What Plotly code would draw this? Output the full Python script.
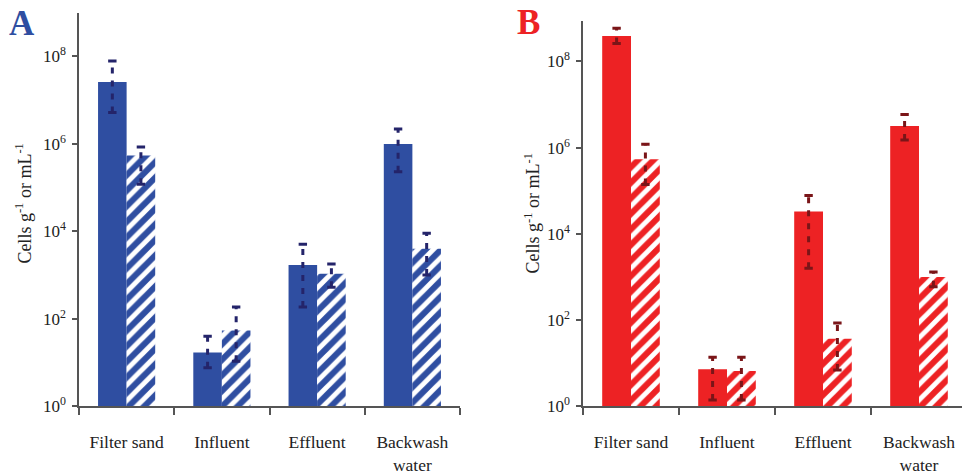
import plotly.graph_objects as go

categories = ["Filter sand", "Influent", "Effluent", "Backwash<br>water"]

# Panel A (blue)
a_solid = [2.6e7, 17, 1.7e3, 1.0e6]
a_solid_hi = [7.9e7, 40, 5.1e3, 2.2e6]
a_solid_lo = [5.2e6, 7.6, 186, 2.3e5]
a_hatch = [5.4e5, 54, 1.07e3, 4.0e3]
a_hatch_hi = [8.5e5, 186, 1.8e3, 9.1e3]
a_hatch_lo = [1.2e5, 10.7, 525, 1.0e3]

# Panel B (red)
b_solid = [3.9e8, 7.2, 3.3e4, 3.2e6]
b_solid_hi = [5.9e8, 13.8, 7.8e4, 5.9e6]
b_solid_lo = [2.6e8, 1.4, 1.6e3, 1.5e6]
b_hatch = [5.4e5, 6.6, 37, 1.0e3]
b_hatch_hi = [1.2e6, 13.8, 85, 1.3e3]
b_hatch_lo = [1.4e5, 1.4, 6.9, 590]

ytick_vals = [1, 1e2, 1e4, 1e6, 1e8]
ytick_text = ["10<sup>0</sup>", "10<sup>2</sup>", "10<sup>4</sup>", "10<sup>6</sup>", "10<sup>8</sup>"]

BLUE = "#2f4ea1"
NAVY = "#24246a"
RED = "#ed2224"
DRED = "#7a1518"
FONT = "Liberation Serif"
AXC = "#555555"

W, H = 962, 475
BAR_W = 0.3
OFF = 0.15


def px_x(page_x):
    return page_x / W


def px_y(page_y):
    return (H - page_y) / H


fig = go.Figure()


def add_panel(xa, ya, solid, s_hi, s_lo, hatch, h_hi, h_lo, color, ecolor):
    n = len(solid)
    xs = [i - OFF for i in range(n)]
    xh = [i + OFF for i in range(n)]
    fig.add_trace(go.Bar(x=xs, y=solid, width=BAR_W, marker=dict(color=color, line=dict(width=0)),
                         xaxis=xa, yaxis=ya, showlegend=False))
    fig.add_trace(go.Bar(x=xh, y=hatch, width=BAR_W,
                         marker=dict(color=color, line=dict(width=0),
                                     pattern=dict(shape="/", fgcolor="white", bgcolor=color,
                                                  size=11, solidity=0.45, fillmode="overlay",
                                                  fgopacity=1)),
                         xaxis=xa, yaxis=ya, showlegend=False))
    for xx, lo, hi in ((xs, s_lo, s_hi), (xh, h_lo, h_hi)):
        lx, ly = [], []
        for i in range(n):
            lx += [xx[i], xx[i], None]
            ly += [lo[i], hi[i], None]
        fig.add_trace(go.Scatter(x=lx, y=ly, mode="lines",
                                 line=dict(color=ecolor, width=3, dash="6px,7px"),
                                 xaxis=xa, yaxis=ya, showlegend=False, hoverinfo="skip"))
        fig.add_trace(go.Scatter(x=xx + xx, y=list(lo) + list(hi), mode="markers",
                                 marker=dict(symbol="line-ew", size=6,
                                             line=dict(color=ecolor, width=3)),
                                 xaxis=xa, yaxis=ya, showlegend=False, hoverinfo="skip"))


add_panel("x", "y", a_solid, a_solid_hi, a_solid_lo, a_hatch, a_hatch_hi, a_hatch_lo, BLUE, NAVY)
add_panel("x2", "y2", b_solid, b_solid_hi, b_solid_lo, b_hatch, b_hatch_hi, b_hatch_lo, RED, DRED)


def xaxis_cfg(dom, anchor, xmax):
    return dict(domain=dom, anchor=anchor, range=[-0.5, xmax], tickvals=list(range(len(categories))),
                ticktext=categories, ticks="", showline=True, linecolor=AXC, linewidth=1.5,
                showgrid=False, zeroline=False, ticklabelstandoff=19,
                tickfont=dict(family=FONT, size=17.5, color="#222"),
                minor=dict(tickvals=[-0.5, 0.5, 1.5, 2.5, 3.5], ticks="outside", ticklen=7,
                           tickcolor=AXC, tickwidth=1.5, showgrid=False))


def yaxis_cfg(dom, anchor, top):
    return dict(domain=dom, anchor=anchor, type="log", range=[0, top], tickvals=ytick_vals,
                ticktext=ytick_text, ticks="outside", ticklen=5, tickcolor=AXC, tickwidth=1.5,
                showline=True, linecolor=AXC, linewidth=1.5, showgrid=False, zeroline=False,
                ticklabelstandoff=3,
                tickfont=dict(family=FONT, size=17, color="#222"))


fig.update_layout(
    width=W, height=H,
    margin=dict(l=0, r=0, t=0, b=0),
    paper_bgcolor="white", plot_bgcolor="white",
    barmode="overlay",
    xaxis=xaxis_cfg([px_x(79), px_x(460)], "y", 3.5),
    yaxis=yaxis_cfg([px_y(415), px_y(13)], "x", 9.0),
    xaxis2=xaxis_cfg([px_x(583), 1.0], "y2", -0.5 + (W - 583) / 96.0),
    yaxis2=yaxis_cfg([px_y(415), px_y(21)], "x2", 8.95),
    annotations=[
        dict(text="<b>A</b>", x=px_x(22), y=px_y(24), xref="paper", yref="paper",
             xanchor="center", yanchor="middle", showarrow=False,
             font=dict(family=FONT, size=35, color=BLUE)),
        dict(text="<b>B</b>", x=px_x(528), y=px_y(23), xref="paper", yref="paper",
             xanchor="center", yanchor="middle", showarrow=False,
             font=dict(family=FONT, size=35, color=RED)),
        dict(text="Cells g<sup>-1</sup> or mL<sup>-1</sup>", textangle=-90,
             x=px_x(24), y=px_y(208), xref="paper", yref="paper",
             xanchor="center", yanchor="middle", showarrow=False,
             font=dict(family=FONT, size=18, color="#222")),
        dict(text="Cells g<sup>-1</sup> or mL<sup>-1</sup>", textangle=-90,
             x=px_x(532), y=px_y(218), xref="paper", yref="paper",
             xanchor="center", yanchor="middle", showarrow=False,
             font=dict(family=FONT, size=18, color="#222")),
    ],
)

fig.write_html(
    "out.html",
    config={"displayModeBar": False},
    post_script="document.body.style.margin='0px';document.documentElement.style.overflow='hidden';",
)
